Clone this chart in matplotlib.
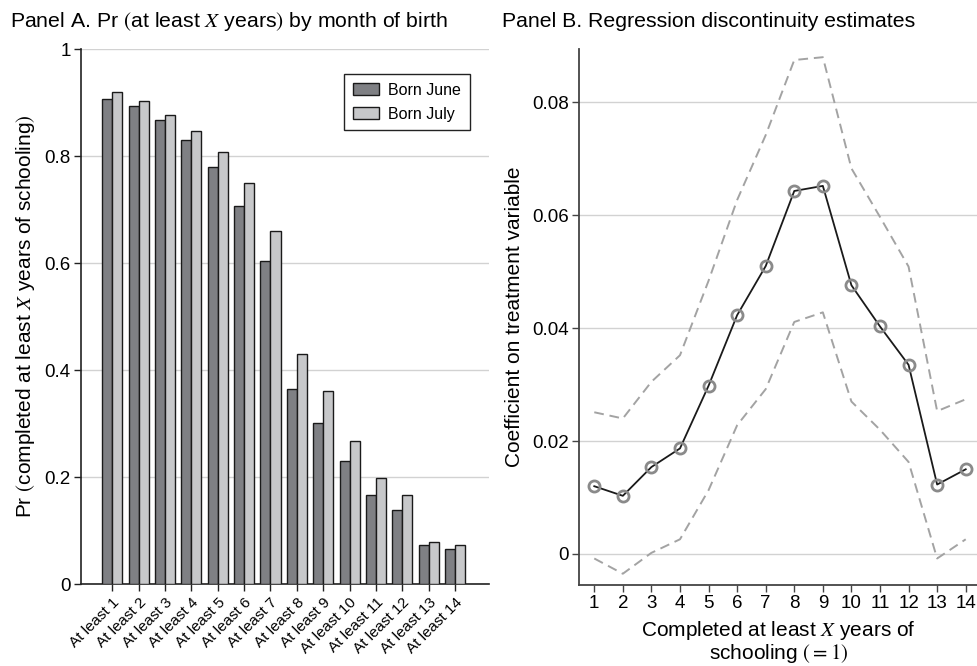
import numpy as np
import matplotlib
matplotlib.use('Agg')
import matplotlib.pyplot as plt
from matplotlib.patches import Patch

plt.rcParams['font.family'] = ['Liberation Sans', 'DejaVu Sans']
plt.rcParams['mathtext.fontset'] = 'stix'

# Panel A: share completing at least X years, by birth month
levels = np.arange(1, 15)
level_labels = [f'At least {k}' for k in levels]
born_june = [0.907, 0.894, 0.867, 0.830, 0.780, 0.707, 0.604,
             0.365, 0.301, 0.230, 0.166, 0.138, 0.072, 0.065]
born_july = [0.919, 0.903, 0.877, 0.847, 0.808, 0.749, 0.660,
             0.430, 0.360, 0.268, 0.199, 0.166, 0.078, 0.072]

# Panel B: RD coefficient with 95% band
years = np.arange(1, 15)
coef = [0.0120, 0.0103, 0.0154, 0.0187, 0.0298, 0.0423, 0.0510,
        0.0643, 0.0652, 0.0476, 0.0403, 0.0335, 0.0123, 0.0150]
ci_hi = [0.0251, 0.0240, 0.0305, 0.0352, 0.0484, 0.0627, 0.0742,
         0.0875, 0.0880, 0.0683, 0.0597, 0.0509, 0.0253, 0.0274]
ci_lo = [-0.0008, -0.0035, 0.0002, 0.0026, 0.0113, 0.0228, 0.0292,
         0.0411, 0.0428, 0.0270, 0.0220, 0.0163, -0.0008, 0.0026]

DARK, LIGHT, GRID = '#7f8084', '#c7c8ca', '#d2d2d2'

fig = plt.figure(figsize=(9.78, 6.66), dpi=100)
axA = fig.add_axes([0.0828, 0.1231, 0.4172, 0.8033])
axB = fig.add_axes([0.5923, 0.1216, 0.4077, 0.8044])

# ---- panel A
w = 0.38
axA.bar(levels - w/2, born_june, w, color=DARK, edgecolor='#1a1a1a', lw=1.0, zorder=3)
axA.bar(levels + w/2, born_july, w, color=LIGHT, edgecolor='#1a1a1a', lw=1.0, zorder=3)
axA.set_xlim(-0.19, 15.29); axA.set_ylim(0, 1)
axA.set_yticks([0, 0.2, 0.4, 0.6, 0.8, 1.0])
axA.set_yticklabels(['0', '0.2', '0.4', '0.6', '0.8', '1'])
axA.set_xticks(levels)
axA.set_xticklabels(level_labels, rotation=45, ha='right', rotation_mode='anchor')
axA.yaxis.grid(True, color=GRID, lw=1.0, zorder=0)
for s in ('top', 'right'): axA.spines[s].set_visible(False)
for s in ('left', 'bottom'): axA.spines[s].set_color('#222222'); axA.spines[s].set_linewidth(1.2)
axA.tick_params(axis='both', labelsize=13.5, length=5, color='#222222', width=1.0, pad=2.5)
axA.tick_params(axis='x', labelsize=11, pad=3)
axA.set_ylabel(r'Pr $($completed at least $X$ years of schooling$)$', fontsize=15, labelpad=5)
leg = axA.legend(handles=[Patch(fc=DARK, ec='#1a1a1a', label='Born June'),
                          Patch(fc=LIGHT, ec='#1a1a1a', label='Born July')],
                 loc='upper right', bbox_to_anchor=(0.972, 0.968), fontsize=11.5,
                 fancybox=False, framealpha=1, edgecolor='#222222',
                 handlelength=1.65, handleheight=0.75, handletextpad=0.55,
                 borderpad=0.55, labelspacing=0.55)
leg.get_frame().set_linewidth(1.0)
fig.text(0.010, 0.968, r'Panel A. Pr $($at least $X$ years$)$ by month of birth',
         fontsize=15.3, ha='left', va='center')

# ---- panel B
axB.plot(years, ci_hi, color='#a3a3a3', lw=1.4, dashes=(5, 3), zorder=2)
axB.plot(years, ci_lo, color='#a3a3a3', lw=1.4, dashes=(5, 3), zorder=2)
axB.plot(years, coef, color='#1a1a1a', lw=1.3, marker='o', ms=8, mfc='none',
         mec='#8a8a8a', mew=2.0, zorder=3)
axB.set_xlim(0.475, 14.43); axB.set_ylim(-0.0055, 0.0894)
axB.set_xticks(years)
axB.set_yticks([0, 0.02, 0.04, 0.06, 0.08])
axB.set_yticklabels(['0', '0.02', '0.04', '0.06', '0.08'])
axB.yaxis.grid(True, color=GRID, lw=1.0, zorder=0)
for s in ('top', 'right'): axB.spines[s].set_visible(False)
for s in ('left', 'bottom'): axB.spines[s].set_color('#444444'); axB.spines[s].set_linewidth(1.3)
axB.tick_params(axis='both', labelsize=13.5, length=5, color='#444444', width=1.0, pad=2.5)
axB.set_ylabel('Coefficient on treatment variable', fontsize=15, labelpad=6)
axB.set_xlabel('Completed at least $X$ years of\nschooling $(=1)$', fontsize=15, labelpad=5,
               linespacing=0.95)
fig.text(0.513, 0.968, 'Panel B. Regression discontinuity estimates',
         fontsize=15.3, ha='left', va='center')

fig.savefig('out.png', dpi=100)
